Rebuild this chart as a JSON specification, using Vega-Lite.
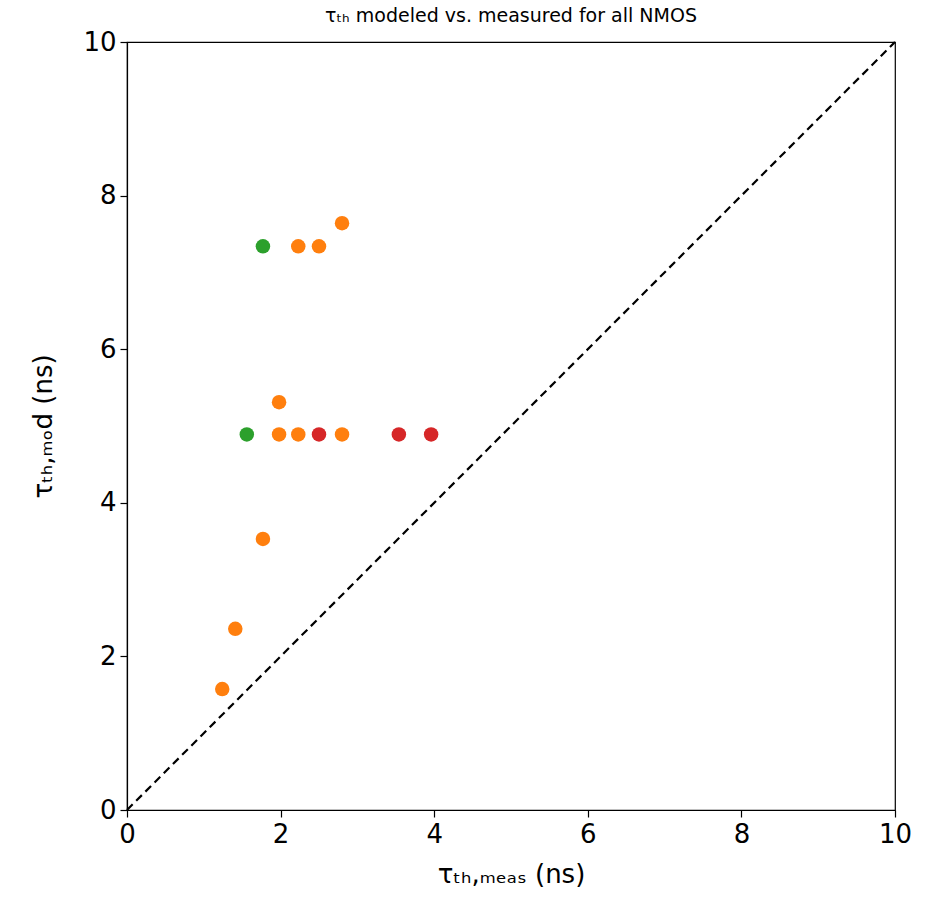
{
  "$schema": "https://vega.github.io/schema/vega-lite/v6.json",
  "width": 768,
  "height": 768,
  "autosize": "none",
  "padding": {"left": 127, "top": 42, "right": 33, "bottom": 93},
  "background": "white",
  "config": {
    "font": "DejaVu Sans",
    "view": {"stroke": "black", "strokeWidth": 1.2},
    "axis": {"grid": false, "domainColor": "black", "tickColor": "black", "labelColor": "black", "titleColor": "black", "labelFont": "DejaVu Sans", "titleFont": "DejaVu Sans", "labelFontSize": 26, "titleFontSize": 26, "titleFontWeight": "normal", "tickSize": 7, "domainWidth": 1.2, "tickWidth": 1.2, "labelFlush": false, "format": "d", "labelPadding": 4}
  },
  "title": {"text": "τₜₕ modeled vs.  measured for all NMOS", "fontSize": 19, "fontWeight": "normal", "font": "DejaVu Sans", "color": "black", "offset": 3},
  "layer": [
    {
      "data": {"values": [{"x0": 0, "y0": 0, "x1": 10, "y1": 10}]},
      "mark": {"type": "rule", "strokeDash": [8, 5], "strokeWidth": 2.2, "color": "black"},
      "encoding": {
        "x": {"field": "x0", "type": "quantitative", "scale": {"domain": [0, 10], "nice": false}},
        "y": {"field": "y0", "type": "quantitative", "scale": {"domain": [0, 10], "nice": false}},
        "x2": {"field": "x1"},
        "y2": {"field": "y1"}
      }
    },
    {
      "data": {"values": [
        {"meas": 1.24, "mod": 1.575, "group": "b"},
        {"meas": 1.41, "mod": 2.36, "group": "b"},
        {"meas": 1.77, "mod": 3.53, "group": "b"},
        {"meas": 1.56, "mod": 4.89, "group": "g"},
        {"meas": 1.98, "mod": 5.31, "group": "b"},
        {"meas": 1.98, "mod": 4.89, "group": "b"},
        {"meas": 2.23, "mod": 4.89, "group": "b"},
        {"meas": 2.5, "mod": 4.89, "group": "r"},
        {"meas": 2.8, "mod": 4.89, "group": "b"},
        {"meas": 3.54, "mod": 4.89, "group": "r"},
        {"meas": 3.96, "mod": 4.89, "group": "r"},
        {"meas": 1.77, "mod": 7.34, "group": "g"},
        {"meas": 2.23, "mod": 7.34, "group": "b"},
        {"meas": 2.5, "mod": 7.34, "group": "b"},
        {"meas": 2.8, "mod": 7.64, "group": "b"}
      ]},
      "mark": {"type": "circle", "size": 210, "opacity": 1},
      "encoding": {
        "x": {"field": "meas", "type": "quantitative", "scale": {"domain": [0, 10], "nice": false}, "axis": {"values": [0, 2, 4, 6, 8, 10], "title": "τₜₕ,ₘₑₐₛ (ns)", "titlePadding": 14}},
        "y": {"field": "mod", "type": "quantitative", "scale": {"domain": [0, 10], "nice": false}, "axis": {"values": [0, 2, 4, 6, 8, 10], "title": "τₜₕ,ₘₒd (ns)", "titlePadding": 26}},
        "color": {"field": "group", "type": "nominal", "scale": {"domain": ["b", "g", "r"], "range": ["#ff7f0e", "#2ca02c", "#d62728"]}, "legend": null}
      }
    }
  ]
}
